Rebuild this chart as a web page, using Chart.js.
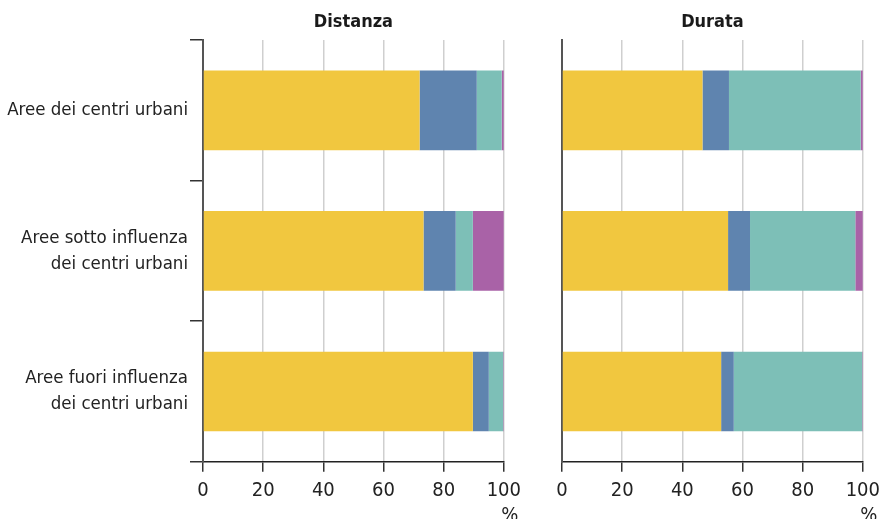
<!DOCTYPE html>
<html>
<head>
<meta charset="utf-8">
<script src="https://cdn.jsdelivr.net/npm/chart.js@4"></script>
<style>
  html, body { margin: 0; padding: 0; background: #fff; overflow: hidden; }
  #wrap { position: relative; width: 879px; height: 519px; overflow: hidden; }
  #boxLeft { position: absolute; left: 0; top: 0; width: 527px; height: 519px; }
  #boxRight { position: absolute; left: 525px; top: 0; width: 361px; height: 519px; }
</style>
</head>
<body>
<div id="wrap">
  <div id="boxLeft"><canvas id="left"></canvas></div>
  <div id="boxRight"><canvas id="right"></canvas></div>
</div>
<script>
// categorie (righe)
const categories = [
    'Aree dei centri urbani',
    ['Aree sotto influenza', 'dei centri urbani'],
    ['Aree fuori influenza', 'dei centri urbani']
];

// Distanza, quote in %
const distA = [72, 73.3, 89.7];
const distB = [19, 10.7, 5.3];
const distC = [8.3, 5.7, 4.8];
const distD = [0.7, 10.3, 0.2];

// Durata, quote in %
const durA = [46.7, 55.2, 52.9];
const durB = [8.8, 7.3, 4.2];
const durC = [43.8, 35, 42.7];
const durD = [0.7, 2.5, 0.2];

const xTicks = [0, 20, 40, 60, 80, 100];
const panelTitles = ['Distanza', 'Durata'];

const colors = ['#F1C73F', '#5F84AF', '#7DBFB7', '#A962A7'];
const fontFamily = "'DejaVu Sans Condensed', 'Liberation Sans Narrow', sans-serif";

// "%" sotto il 100
const percentPlugin = {
    id: 'percentLabel',
    afterDraw(chart) {
        const ctx = chart.ctx;
        const x = chart.scales.x.getPixelForValue(100);
        ctx.save();
        ctx.fillStyle = '#222';
        ctx.font = '20px ' + fontFamily;
        ctx.textAlign = 'center';
        ctx.textBaseline = 'top';
        ctx.fillText('%', x + 6, 506);
        ctx.restore();
    }
};

function makeChart(canvasId, title, series, showLabels, yWidth) {
    const datasets = series.map((values, i) => ({
        data: values,
        backgroundColor: colors[i],
        borderWidth: 0,
        barPercentage: 0.567,
        categoryPercentage: 1
    }));

    return new Chart(document.getElementById(canvasId), {
        type: 'bar',
        data: { labels: categories, datasets: datasets },
        plugins: [percentPlugin],
        options: {
            indexAxis: 'y',
            responsive: true,
            maintainAspectRatio: false,
            animation: false,
            layout: { autoPadding: false, padding: { left: 0, right: 9, top: 0, bottom: 10 } },
            plugins: {
                legend: { display: false },
                tooltip: { enabled: false },
                title: {
                    display: true,
                    text: title,
                    fullSize: false,
                    color: '#1a1a1a',
                    font: { family: fontFamily, size: 18, weight: 'bold', lineHeight: 1.2 },
                    padding: { top: 12, bottom: 6.4 }
                }
            },
            scales: {
                x: {
                    stacked: true,
                    min: 0,
                    max: 100,
                    afterBuildTicks(scale) {
                        scale.ticks = xTicks.map(v => ({ value: v }));
                    },
                    grid: {
                        color: '#cfcfcf',
                        lineWidth: 1.5,
                        tickColor: '#333',
                        tickLength: 10
                    },
                    border: { color: '#222', width: 1.5 },
                    ticks: {
                        color: '#222',
                        padding: 6,
                        maxRotation: 0,
                        font: { family: fontFamily, size: 20, lineHeight: 1.26 }
                    }
                },
                y: {
                    stacked: true,
                    afterFit(scale) { scale.width = yWidth; },
                    grid: {
                        display: showLabels,
                        drawOnChartArea: false,
                        offset: true,
                        tickLength: 13,
                        tickColor: '#333',
                        lineWidth: 1.5
                    },
                    border: { color: '#555', width: 2 },
                    ticks: {
                        display: showLabels,
                        color: '#222',
                        padding: 2,
                        font: { family: fontFamily, size: 18.5, lineHeight: 1.4 }
                    }
                }
            }
        }
    });
}

makeChart('left', panelTitles[0], [distA, distB, distC, distD], true, 203);
makeChart('right', panelTitles[1], [durA, durB, durC, durD], false, 37);
</script>
</body>
</html>
